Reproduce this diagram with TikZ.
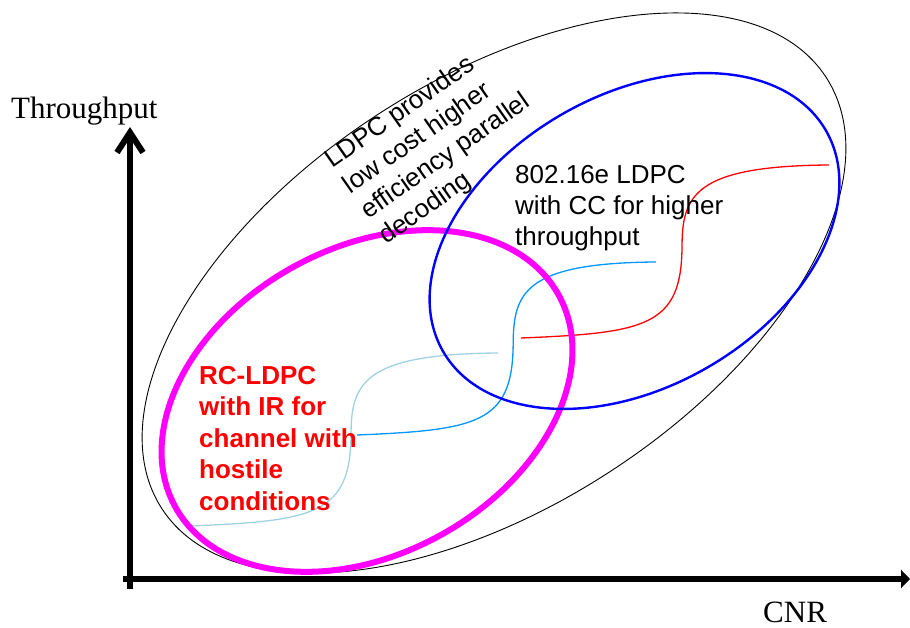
\documentclass[tikz,border=0pt]{standalone}
\usepackage{fontspec}
\setmainfont{Liberation Serif}
\newfontfamily\arialf{Liberation Sans}
\usetikzlibrary{arrows.meta}
\definecolor{midcurve}{RGB}{0,150,255}
\definecolor{lightcurve}{RGB}{160,210,225}
\definecolor{magentaring}{RGB}{255,0,255}
\tikzset{
  axisline/.style={line width=6pt},
  scurve/.style={line width=1.3pt},
  arialtext/.style={font={\arialf\fontsize{26}{31}\selectfont}, align=left, inner sep=0pt, anchor=base west},
  axislabel/.style={font={\fontsize{31}{36}\selectfont}, inner sep=0pt, anchor=base west}
}
\begin{document}
\begin{tikzpicture}[x=1pt,y=-1pt]
\useasboundingbox (0,0) rectangle (910,628);
% outer black ellipse
\coordinate (cb) at (494,293);
\draw[line width=0.9pt, rotate around={33:(cb)}] (cb) ellipse [x radius=396, y radius=213];
% S-curves
\coordinate (s1) at (190,526);
\coordinate (s2) at (357,435);
\coordinate (s3) at (521,338);
\draw[scurve, lightcurve, shift={(s1)}] (0,0) .. controls (125,-5) and (160,-12) .. (161,-90) .. controls (161,-142) and (172,-172) .. (308,-173);
\draw[scurve, midcurve, shift={(s2)}, xscale=0.97] (0,0) .. controls (125,-5) and (160,-12) .. (161,-90) .. controls (161,-142) and (172,-172) .. (308,-173);
\draw[scurve, red, shift={(s3)}] (0,0) .. controls (125,-5) and (160,-12) .. (161,-90) .. controls (161,-142) and (172,-172) .. (308,-173);
% magenta ellipse
\coordinate (cm) at (367,401);
\draw[magentaring, line width=6pt, rotate around={29:(cm)}] (cm) ellipse [x radius=219, y radius=153];
% blue ellipse
\coordinate (cbl) at (634.5,241);
\draw[blue, line width=2.4pt, rotate around={30:(cbl)}] (cbl) ellipse [x radius=221, y radius=146];
% axes
\coordinate (ybot) at (130,589);
\coordinate (ytop) at (130,127);
\coordinate (xleft) at (123,579);
\coordinate (xright) at (910,579);
\draw[axisline, -{Straight Barb[length=20pt,width=26pt]}] (ybot) -- (ytop);
\draw[axisline, -{Triangle[length=9pt,width=18pt]}] (xleft) -- (xright);
% labels
\node[axislabel] (tp) at (11,119) {Throughput};
\node[axislabel] (cnr) at (763,622) {CNR};
\node[arialtext, rotate=35] (ldpc) at (386,245) {LDPC provides\\low cost higher\\efficiency parallel\\decoding};
\node[arialtext] (std) at (515,246) {802.16e LDPC\\with CC for higher\\throughput};
\node[arialtext, red, font={\arialf\bfseries\fontsize{26}{31.5}\selectfont}] (rc) at (199,510) {RC-LDPC\\with IR for\\channel with\\hostile\\conditions};
\end{tikzpicture}
\end{document}
